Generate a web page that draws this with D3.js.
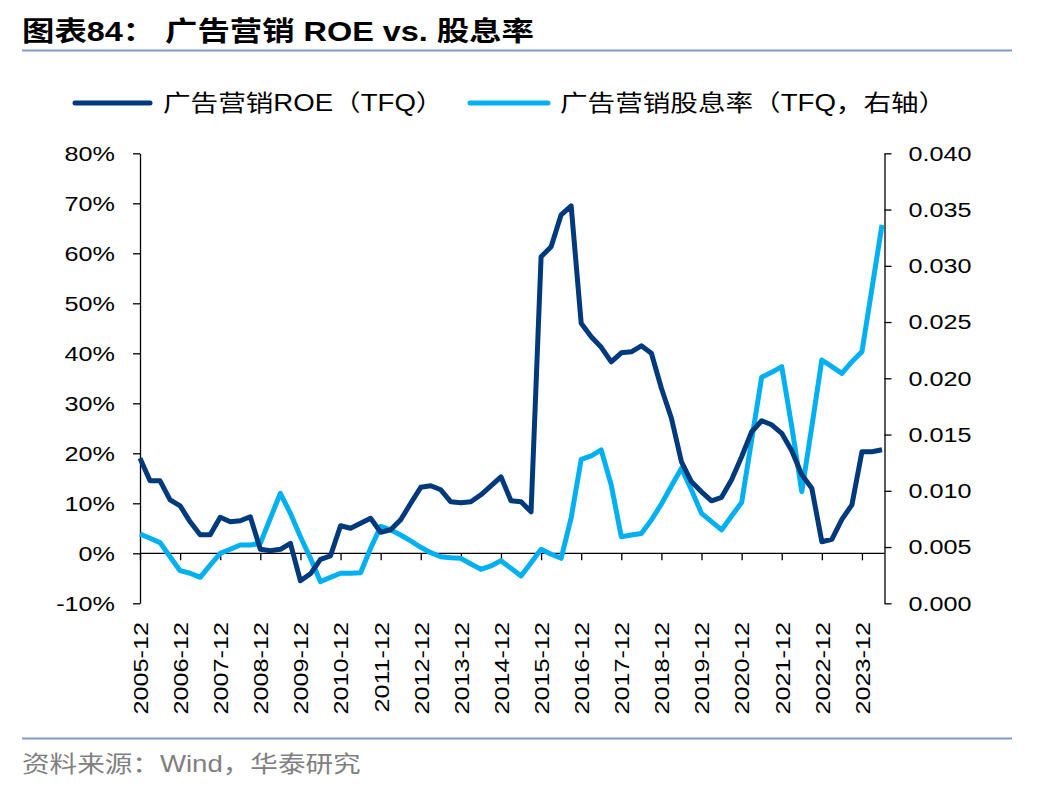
<!DOCTYPE html>
<html>
<head>
<meta charset="utf-8">
<script src="https://cdn.jsdelivr.net/npm/d3@7"></script>
<style>
  html, body { margin: 0; padding: 0; background: #fff; }
  svg { display: block; }
  text { font-family: "Liberation Sans", Arial, "Noto Sans CJK SC", sans-serif; fill: #000; }
</style>
</head>
<body>
<svg id="chart" width="1048" height="792"></svg>
<script>
// ---------------- data ----------------
const quarters = [
  "2005-12",
  "2006-03","2006-06","2006-09","2006-12",
  "2007-03","2007-06","2007-09","2007-12",
  "2008-03","2008-06","2008-09","2008-12",
  "2009-03","2009-06","2009-09","2009-12",
  "2010-03","2010-06","2010-09","2010-12",
  "2011-03","2011-06","2011-09","2011-12",
  "2012-03","2012-06","2012-09","2012-12",
  "2013-03","2013-06","2013-09","2013-12",
  "2014-03","2014-06","2014-09","2014-12",
  "2015-03","2015-06","2015-09","2015-12",
  "2016-03","2016-06","2016-09","2016-12",
  "2017-03","2017-06","2017-09","2017-12",
  "2018-03","2018-06","2018-09","2018-12",
  "2019-03","2019-06","2019-09","2019-12",
  "2020-03","2020-06","2020-09","2020-12",
  "2021-03","2021-06","2021-09","2021-12",
  "2022-03","2022-06","2022-09","2022-12",
  "2023-03","2023-06","2023-09","2023-12",
  "2024-03","2024-06"
];
const tickLabels = ["2005-12","2006-12","2007-12","2008-12","2009-12","2010-12","2011-12",
  "2012-12","2013-12","2014-12","2015-12","2016-12","2017-12","2018-12","2019-12",
  "2020-12","2021-12","2022-12","2023-12"];

// 广告营销ROE（TFQ）, %
const roe = [19.0,14.5,14.5,10.7,9.5,6.3,3.7,3.7,7.2,6.3,
  6.5,7.3,0.8,0.5,0.8,2.0,-5.5,-4.1,-1.2,-0.5,
  5.5,5.0,6.0,7.0,4.2,4.7,6.7,10.0,13.2,13.5,
  12.7,10.3,10.1,10.3,11.7,13.5,15.3,10.5,10.3,8.3,
  59.3,61.3,67.7,69.5,46.0,43.3,41.2,38.3,40.1,40.3,
  41.5,40.0,33.0,27.0,18.3,14.3,12.3,10.5,11.2,14.7,
  19.3,24.3,26.5,25.7,24.0,20.5,15.7,13.0,2.3,2.8,
  6.8,9.7,20.3,20.3,20.7];

// 广告营销股息率（TFQ，右轴）
const dividendYield = [0.00616,0.00578,0.00539,0.00414,0.0029,0.00267,0.00231,0.0034,0.00444,0.0048,
  0.00518,0.00518,0.00533,0.00756,0.00978,0.008,0.00592,0.004,0.00192,0.00231,
  0.00267,0.00267,0.00272,0.00489,0.00684,0.00652,0.00607,0.00554,0.00498,0.0045,
  0.00414,0.00405,0.004,0.00349,0.00302,0.00332,0.00379,0.00311,0.00243,0.00361,
  0.0048,0.00436,0.004,0.0076,0.0128,0.0131,0.01363,0.0105,0.00592,0.00607,
  0.0062,0.0074,0.00883,0.01043,0.012,0.01007,0.008,0.00726,0.00652,0.00776,
  0.00895,0.01452,0.0201,0.02053,0.02104,0.0157,0.00992,0.0157,0.02163,0.02104,
  0.02044,0.02148,0.02237,0.028,0.03363];

const leftTicks = [-10,0,10,20,30,40,50,60,70,80];
const rightTicks = [0,0.005,0.010,0.015,0.020,0.025,0.030,0.035,0.040];

const seriesNames = ["广告营销ROE（TFQ）", "广告营销股息率（TFQ，右轴）"];
const colors = ["#003a7d", "#00b0f0"];

// ---------------- layout ----------------
const SX = 1.2; // horizontal glyph stretch of the original rendering
const svg = d3.select("#chart");
const x = d3.scalePoint().domain(quarters).range([140, 882]);
const yL = d3.scaleLinear().domain([-10, 80]).range([603.3, 153.3]);
const yR = d3.scaleLinear().domain([0, 0.04]).range([603.3, 153.3]);
const rightX = 884.5;

// Title
svg.append("text").attr("x", 0).attr("y", 0)
  .attr("font-size", 27).attr("font-weight", "bold")
  .attr("transform", `translate(22,41) scale(${SX},1)`)
  .text("图表84：");
svg.append("text").attr("x", 0).attr("y", 0)
  .attr("font-size", 27).attr("font-weight", "bold")
  .attr("transform", `translate(165,41) scale(${SX},1)`)
  .text("广告营销 ROE vs. 股息率");

// rules
svg.append("line").attr("x1", 22).attr("x2", 1012).attr("y1", 50.5).attr("y2", 50.5)
  .attr("stroke", "#7f9ccb").attr("stroke-width", 2);
svg.append("line").attr("x1", 22).attr("x2", 1012).attr("y1", 738.5).attr("y2", 738.5)
  .attr("stroke", "#7f9ccb").attr("stroke-width", 2);

// Legend
const legend = [
  {name: seriesNames[0], color: colors[0], x1: 75, x2: 150, tx: 163},
  {name: seriesNames[1], color: colors[1], x1: 470, x2: 548, tx: 560}
];
legend.forEach(l => {
  svg.append("line").attr("x1", l.x1).attr("x2", l.x2).attr("y1", 103).attr("y2", 103)
    .attr("stroke", l.color).attr("stroke-width", 5).attr("stroke-linecap", "round");
  svg.append("text").attr("x", 0).attr("y", 0).attr("font-size", 23)
    .attr("transform", `translate(${l.tx},111) scale(${SX},1)`)
    .text(l.name);
});

// Left axis
const gL = svg.append("g").attr("transform", "translate(140,0)")
  .call(d3.axisLeft(yL).tickValues(leftTicks).tickSize(7).tickSizeOuter(0)
    .tickFormat(d => d + "%"));
gL.select(".domain").attr("stroke", "#000").attr("stroke-width", 1.3);
gL.selectAll(".tick line").attr("stroke", "#000").attr("stroke-width", 1.3);
gL.selectAll(".tick text").attr("x", 0).attr("font-size", 21).attr("fill", "#000")
  .attr("font-family", null)
  .attr("transform", `translate(-25,0) scale(${SX},1)`);

// Right axis
const gR = svg.append("g").attr("transform", `translate(${rightX},0)`)
  .call(d3.axisRight(yR).tickValues(rightTicks).tickSize(7).tickSizeOuter(0)
    .tickFormat(d3.format(".3f")));
gR.select(".domain").attr("stroke", "#000").attr("stroke-width", 1.3);
gR.selectAll(".tick line").attr("stroke", "#000").attr("stroke-width", 1.3);
gR.selectAll(".tick text").attr("x", 0).attr("font-size", 21).attr("fill", "#000")
  .attr("font-family", null)
  .attr("transform", `translate(24,0) scale(${SX},1)`);

// Bottom axis at y = 0%
const gB = svg.append("g").attr("transform", `translate(0,${yL(0)})`)
  .call(d3.axisBottom(x).tickValues(tickLabels).tickSize(7).tickSizeOuter(0));
gB.select(".domain").remove();
gB.append("line").attr("x1", 140).attr("x2", rightX).attr("y1", 0).attr("y2", 0)
  .attr("stroke", "#000").attr("stroke-width", 1.3);
gB.selectAll(".tick line").attr("stroke", "#000").attr("stroke-width", 1.3);
gB.selectAll(".tick text").attr("x", 0).attr("y", 0).attr("dy", "0.35em")
  .attr("font-size", 21).attr("fill", "#000").attr("font-family", null)
  .attr("text-anchor", "end")
  .attr("transform", `translate(0,${622 - yL(0)}) rotate(-90) scale(${SX},1)`);

// Lines
const lineL = d3.line().x((d, i) => x(quarters[i])).y(d => yL(d));
const lineR = d3.line().x((d, i) => x(quarters[i])).y(d => yR(d));
svg.append("path").datum(dividendYield).attr("d", lineR)
  .attr("fill", "none").attr("stroke", colors[1]).attr("stroke-width", 5)
  .attr("stroke-linejoin", "round");
svg.append("path").datum(roe).attr("d", lineL)
  .attr("fill", "none").attr("stroke", colors[0]).attr("stroke-width", 5)
  .attr("stroke-linejoin", "round");

// Source
svg.append("text").attr("x", 0).attr("y", 0).attr("font-size", 23)
  .style("fill", "#808080")
  .attr("transform", `translate(22,772) scale(${SX},1)`)
  .text("资料来源：Wind，华泰研究");
</script>
</body>
</html>
